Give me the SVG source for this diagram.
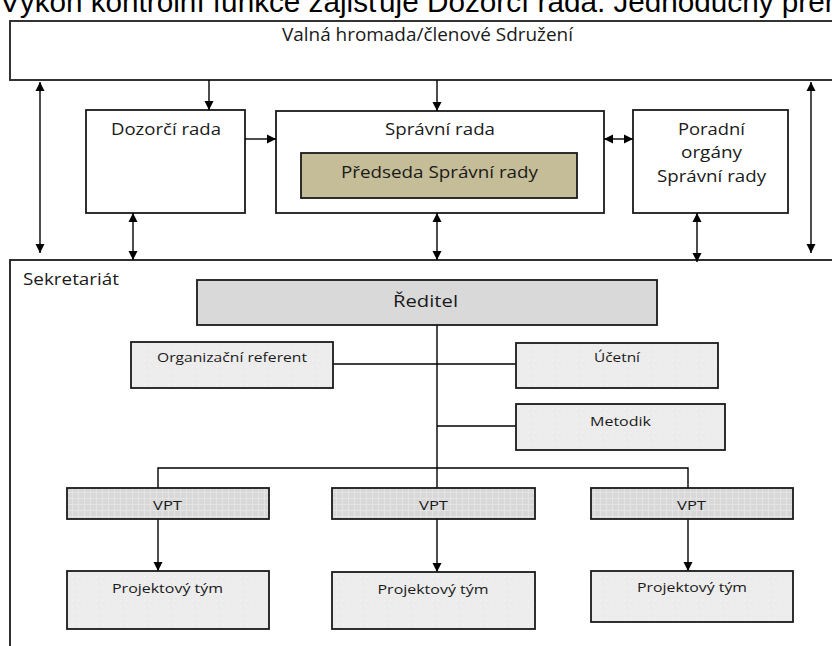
<svg xmlns="http://www.w3.org/2000/svg" width="832" height="646" viewBox="0 0 832 646">
<style>
.box{fill:#ffffff;stroke:#1a1a1a;stroke-width:1.8}
.lt{fill:url(#dots);stroke:#1a1a1a;stroke-width:1.8}
.vp{fill:url(#grid);stroke:#1a1a1a;stroke-width:1.8}
.t{font-family:"Open Sans","Noto Sans",sans-serif;fill:#1a1a1a;text-anchor:middle}
.s{font-size:13px}
.m{font-size:16.5px}
.c{stroke:#000;stroke-width:1.4;fill:none}
</style>
<defs>
<marker id="ah" markerWidth="10" markerHeight="10" refX="9" refY="5" orient="auto-start-reverse" markerUnits="userSpaceOnUse">
<path d="M0,0.5 L9,5 L0,9.5 Z" fill="#000"/>
</marker>
<pattern id="dots" width="6" height="6" patternUnits="userSpaceOnUse">
<rect width="6" height="6" fill="#ececec"/>
<rect width="1" height="1" fill="#f6f6f6"/>
</pattern>
<pattern id="grid" width="6" height="6" patternUnits="userSpaceOnUse">
<rect width="6" height="6" fill="#d8d8d8"/>
<rect width="1" height="6" fill="#e4e4e4"/>
<rect width="6" height="1" fill="#e4e4e4"/>
</pattern>
</defs>

<text x="0" y="12" font-family="'Liberation Sans',Arial,sans-serif" font-size="29.7" fill="#000">Výkon kontrolní funkce zajišťuje Dozorčí rada. Jednoduchý přehled</text>

<g id="valna">
<rect x="10" y="21" width="850" height="59" fill="#fff" stroke="#333" stroke-width="2"/>
<text class="t" x="427.5" y="41" font-size="17.5" textLength="291" lengthAdjust="spacingAndGlyphs">Valná hromada/členové Sdružení</text>
</g>

<g id="dozorci">
<rect class="box" x="86" y="110" width="159" height="103"/>
<text class="t m" x="166" y="135" textLength="110" lengthAdjust="spacingAndGlyphs">Dozorčí rada</text>
</g>

<g id="spravni">
<rect class="box" x="276" y="111" width="328" height="102"/>
<text class="t m" x="440" y="135" textLength="110" lengthAdjust="spacingAndGlyphs">Správní rada</text>
</g>

<g id="predseda">
<rect x="301" y="153" width="276" height="45" fill="#c4bd97" stroke="#1a1a1a" stroke-width="1.8"/>
<text class="t m" x="439.5" y="178" textLength="197" lengthAdjust="spacingAndGlyphs">Předseda Správní rady</text>
</g>

<g id="poradni">
<rect class="box" x="633" y="110" width="155" height="103"/>
<text class="t m" x="711.5" y="135" textLength="67" lengthAdjust="spacingAndGlyphs">Poradní</text>
<text class="t m" x="711.5" y="158" textLength="61" lengthAdjust="spacingAndGlyphs">orgány</text>
<text class="t m" x="711.5" y="182" textLength="109" lengthAdjust="spacingAndGlyphs">Správní rady</text>
</g>

<g id="sekretariat">
<rect x="10" y="260" width="850" height="400" fill="#fff" stroke="#1a1a1a" stroke-width="1.8"/>
<text x="23" y="285" font-family="'Open Sans','Noto Sans',sans-serif" font-size="16" fill="#1a1a1a" textLength="96" lengthAdjust="spacingAndGlyphs">Sekretariát</text>
</g>

<g id="connectors">
<line class="c" x1="40" y1="82" x2="40" y2="253" marker-start="url(#ah)" marker-end="url(#ah)"/>
<line class="c" x1="811" y1="82" x2="811" y2="253" marker-start="url(#ah)" marker-end="url(#ah)"/>
<line class="c" x1="209" y1="80" x2="209" y2="110" marker-end="url(#ah)"/>
<line class="c" x1="437" y1="80" x2="437" y2="111" marker-end="url(#ah)"/>
<line class="c" x1="245" y1="139" x2="276" y2="139" marker-end="url(#ah)"/>
<line class="c" x1="604" y1="139" x2="633" y2="139" marker-start="url(#ah)" marker-end="url(#ah)"/>
<line class="c" x1="133" y1="213" x2="133" y2="260" marker-start="url(#ah)" marker-end="url(#ah)"/>
<line class="c" x1="437" y1="213" x2="437" y2="260" marker-start="url(#ah)" marker-end="url(#ah)"/>
<line class="c" x1="697" y1="213" x2="697" y2="262" marker-start="url(#ah)" marker-end="url(#ah)"/>
<line class="c" x1="437" y1="325" x2="437" y2="488"/>
<line class="c" x1="333" y1="364" x2="516" y2="364"/>
<line class="c" x1="437" y1="426" x2="516" y2="426"/>
<polyline class="c" points="158,488 158,468 688,468 688,488"/>
<line class="c" x1="158" y1="519" x2="158" y2="571" marker-end="url(#ah)"/>
<line class="c" x1="437" y1="519" x2="437" y2="572" marker-end="url(#ah)"/>
<line class="c" x1="688" y1="519" x2="688" y2="571" marker-end="url(#ah)"/>
</g>

<g id="reditel">
<rect x="197" y="280" width="460" height="45" fill="#d9d9d9" stroke="#1a1a1a" stroke-width="1.8"/>
<text class="t" x="425.5" y="307" font-size="17" textLength="65" lengthAdjust="spacingAndGlyphs">Ředitel</text>
</g>

<g id="organizacni">
<rect class="lt" x="131" y="342" width="202" height="46"/>
<text class="t s" x="232" y="362" textLength="150" lengthAdjust="spacingAndGlyphs">Organizační referent</text>
</g>

<g id="ucetni">
<rect class="lt" x="516" y="343" width="202" height="45"/>
<text class="t s" x="617" y="362" textLength="46" lengthAdjust="spacingAndGlyphs">Účetní</text>
</g>

<g id="metodik">
<rect class="lt" x="516" y="404" width="209" height="46"/>
<text class="t s" x="620.5" y="426" textLength="61" lengthAdjust="spacingAndGlyphs">Metodik</text>
</g>

<g id="vpt1">
<rect class="vp" x="67" y="488" width="202" height="31"/>
<text class="t s" x="167.5" y="510" textLength="29" lengthAdjust="spacingAndGlyphs">VPT</text>
</g>
<g id="vpt2">
<rect class="vp" x="332" y="488" width="203" height="31"/>
<text class="t s" x="433.5" y="510" textLength="29" lengthAdjust="spacingAndGlyphs">VPT</text>
</g>
<g id="vpt3">
<rect class="vp" x="591" y="488" width="202" height="31"/>
<text class="t s" x="691.5" y="510" textLength="29" lengthAdjust="spacingAndGlyphs">VPT</text>
</g>

<g id="tym1">
<rect class="lt" x="67" y="571" width="202" height="58"/>
<text class="t s" x="167.5" y="593" textLength="111" lengthAdjust="spacingAndGlyphs">Projektový tým</text>
</g>
<g id="tym2">
<rect class="lt" x="332" y="572" width="203" height="57"/>
<text class="t s" x="433" y="594" textLength="111" lengthAdjust="spacingAndGlyphs">Projektový tým</text>
</g>
<g id="tym3">
<rect class="lt" x="591" y="571" width="202" height="51"/>
<text class="t s" x="692" y="592" textLength="110" lengthAdjust="spacingAndGlyphs">Projektový tým</text>
</g>
</svg>
